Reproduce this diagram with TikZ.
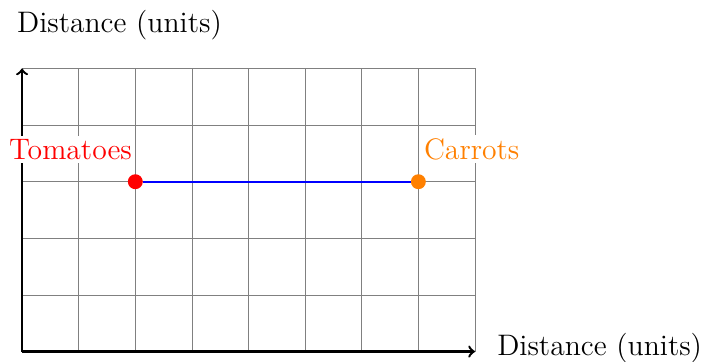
\documentclass[tikz,border=0pt]{standalone}
\usepackage{tikz}
\usetikzlibrary{positioning}

\begin{document}
\begin{tikzpicture}[every node/.style={font=\fontsize{14.9}{18}\selectfont},
    dot/.style={circle, inner sep=0pt, minimum size=7.5pt},
    tag/.style={fill=white, inner sep=1.5pt}]
    \useasboundingbox (-0.39,-0.18) rectangle (12.01,6.21);
    \draw[gray, thin] (0,0) grid (8,5);
    \coordinate (origin) at (0,0);
    \coordinate (xend) at (8,0);
    \coordinate (yend) at (0,5);
    \draw[very thick, ->] (origin) -- (xend);
    \draw[very thick, ->] (origin) -- (yend);
    \node[anchor=base west] (xlabel) at (8.27,-0.07) {Distance (units)};
    \node[anchor=base] (ylabel) at (1.72,5.64) {Distance (units)};
    \node[dot, fill=red] (tomatoes) at (2,3) {};
    \node[dot, fill=orange] (carrots) at (7,3) {};
    \draw[blue, very thick] (tomatoes) -- (carrots);
    \node[tag, text=red, anchor=south east] (tomatoeslabel) at (2,3.33) {Tomatoes};
    \node[tag, text=orange, anchor=south west] (carrotslabel) at (7.04,3.33) {Carrots};
  \end{tikzpicture}
\end{document}
